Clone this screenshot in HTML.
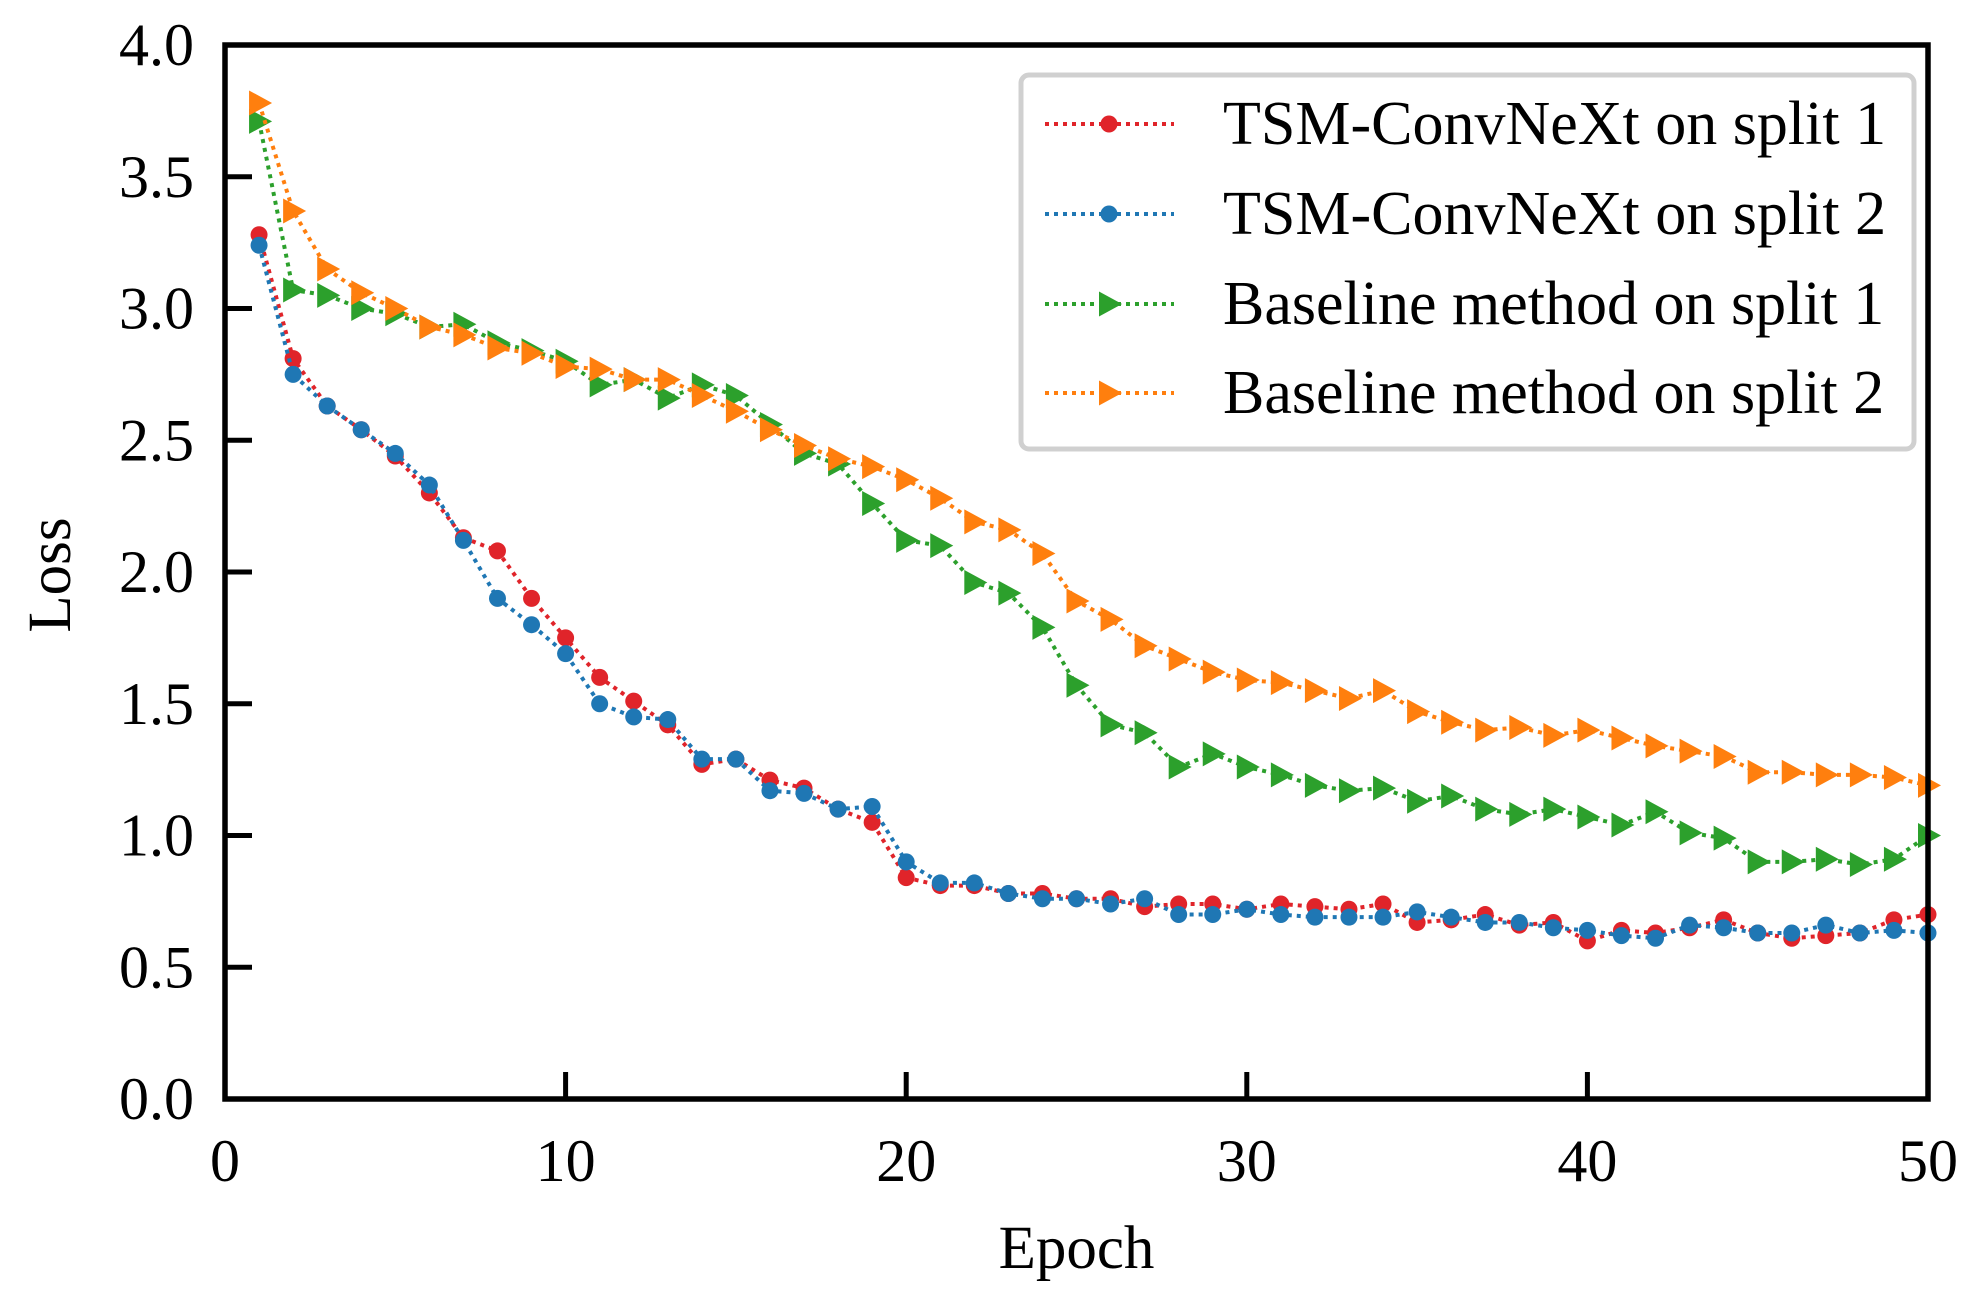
<!DOCTYPE html>
<html><head><meta charset="utf-8"><style>
html,body{margin:0;padding:0;background:#fff;}
svg{display:block;font-family:"Liberation Serif",serif;}
</style></head><body>
<svg id="chart" width="1987" height="1295" viewBox="0 0 1987 1295" xmlns="http://www.w3.org/2000/svg">
<g id="marks"></g>
<g id="axes"></g>
<g id="legend"></g>
</svg>
<script>
const epochs = Array.from({length:50},(_,i)=>i+1);
const tsmSplit1 = [3.28,2.81,2.63,2.54,2.44,2.30,2.13,2.08,1.90,1.75,1.60,1.51,1.42,1.27,1.29,1.21,1.18,1.10,1.05,0.84,0.81,0.81,0.78,0.78,0.76,0.76,0.73,0.74,0.74,0.72,0.74,0.73,0.72,0.74,0.67,0.68,0.70,0.66,0.67,0.60,0.64,0.63,0.65,0.68,0.63,0.61,0.62,0.63,0.68,0.70];
const tsmSplit2 = [3.24,2.75,2.63,2.54,2.45,2.33,2.12,1.90,1.80,1.69,1.50,1.45,1.44,1.29,1.29,1.17,1.16,1.10,1.11,0.90,0.82,0.82,0.78,0.76,0.76,0.74,0.76,0.70,0.70,0.72,0.70,0.69,0.69,0.69,0.71,0.69,0.67,0.67,0.65,0.64,0.62,0.61,0.66,0.65,0.63,0.63,0.66,0.63,0.64,0.63];
const baseSplit1 = [3.71,3.07,3.05,3.00,2.98,2.93,2.94,2.87,2.84,2.80,2.71,2.73,2.66,2.71,2.67,2.56,2.45,2.41,2.26,2.12,2.10,1.96,1.92,1.79,1.57,1.42,1.39,1.26,1.31,1.26,1.23,1.19,1.17,1.18,1.13,1.15,1.10,1.08,1.10,1.07,1.04,1.09,1.01,0.99,0.90,0.90,0.91,0.89,0.91,1.00];
const baseSplit2 = [3.78,3.37,3.15,3.06,3.00,2.93,2.90,2.85,2.83,2.78,2.77,2.73,2.73,2.67,2.61,2.54,2.48,2.43,2.40,2.35,2.28,2.19,2.16,2.07,1.89,1.82,1.72,1.67,1.62,1.59,1.58,1.55,1.52,1.55,1.47,1.43,1.40,1.41,1.38,1.40,1.37,1.34,1.32,1.30,1.24,1.24,1.23,1.23,1.22,1.19];
const xTicks = [0,10,20,30,40,50];
const yTicks = [0.0,0.5,1.0,1.5,2.0,2.5,3.0,3.5,4.0];
const seriesNames = ["TSM-ConvNeXt on split 1","TSM-ConvNeXt on split 2","Baseline method on split 1","Baseline method on split 2"];

const L=225,R=1928,T=45,B=1099;
const xs=v=>L+(v-0)/(50-0)*(R-L);
const ys=v=>B-(v-0)/(4-0)*(B-T);
const NS="http://www.w3.org/2000/svg";
function mk(tag,attrs,parent){const e=document.createElementNS(NS,tag);for(const k in attrs)e.setAttribute(k,attrs[k]);parent.appendChild(e);return e;}
const marks=document.getElementById('marks'),axes=document.getElementById('axes'),legend=document.getElementById('legend');

const series=[
 {d:tsmSplit1,c:"#e0242a",m:"circle",id:"tsm-split-1"},
 {d:tsmSplit2,c:"#1f77b4",m:"circle",id:"tsm-split-2"},
 {d:baseSplit1,c:"#2ca02c",m:"tri",id:"baseline-split-1"},
 {d:baseSplit2,c:"#ff7f0e",m:"tri",id:"baseline-split-2"}];
function marker(kind,x,y,c,parent){
  if(kind==="circle") return mk('circle',{cx:x,cy:y,r:8.5,fill:c},parent);
  return mk('polygon',{points:`${x-10},${y-12.5} ${x+13},${y} ${x-10},${y+12.5}`,fill:c},parent);
}
series.forEach(s=>{
  const g=mk('g',{},marks);
  
  
  const pts=s.d.map((v,i)=>xs(epochs[i])+','+ys(v)).join(' ');
  const pl=mk('polyline',{points:pts,fill:'none',stroke:s.c,'stroke-width':4,'stroke-dasharray':'4 5'},g);
  
  
  s.d.forEach((v,i)=>{
    const m=marker(s.m,xs(epochs[i]),ys(v),s.c,g);
    
    
  });
});

const fr=mk('rect',{x:L,y:T,width:R-L,height:B-T,fill:'none',stroke:'#000','stroke-width':5.5},axes);


xTicks.forEach(t=>{
  const x=xs(t);
  const tk=mk('line',{x1:x,y1:B,x2:x,y2:B-27,stroke:'#000','stroke-width':5},axes);
  
  
  const tx=mk('text',{x:x,y:B+82,'font-size':60,'text-anchor':'middle'},axes);
  tx.textContent=String(t);
  
  
});
yTicks.forEach(t=>{
  const y=ys(t);
  const tk=mk('line',{x1:L,y1:y,x2:L+27,y2:y,stroke:'#000','stroke-width':5},axes);
  
  
  const tx=mk('text',{x:194,y:y+20,'font-size':60,'text-anchor':'end'},axes);
  tx.textContent=t.toFixed(1);
  
  
});
const xl=mk('text',{x:(L+R)/2,y:1268,'font-size':61,'text-anchor':'middle'},axes);
xl.textContent='Epoch';


const yl=mk('text',{x:0,y:0,'font-size':61,'text-anchor':'middle',transform:'translate(70,575) rotate(-90)'},axes);
yl.textContent='Loss';



const lb=mk('rect',{x:1027-6,y:75,width:893,height:374,rx:8,fill:'#fff','fill-opacity':0.85,stroke:'#d0d0d0','stroke-width':5},legend);


const rowY=[124,214,304,393];
series.forEach((s,i)=>{
  const g=mk('g',{},legend);
  
  
  mk('line',{x1:1045,y1:rowY[i],x2:1174,y2:rowY[i],stroke:s.c,'stroke-width':4,'stroke-dasharray':'4 5'},g);
  marker(s.m,1109,rowY[i],s.c,g);
  const tx=mk('text',{x:1223,y:rowY[i]+20,'font-size':62},g);
  tx.textContent=seriesNames[i];
});
</script>
</body></html>
